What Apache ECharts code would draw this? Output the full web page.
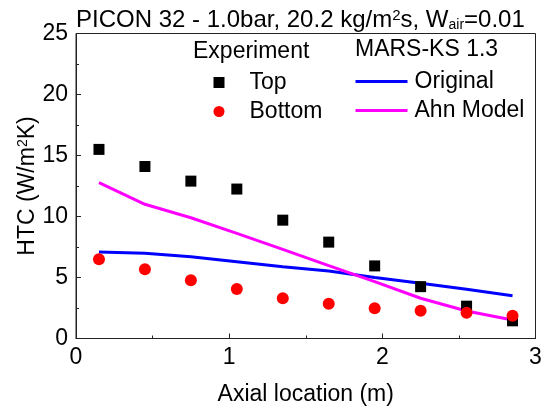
<!DOCTYPE html>
<html>
<head>
<meta charset="utf-8">
<script src="https://cdn.jsdelivr.net/npm/echarts@6/dist/echarts.min.js"></script>
<style>
  html, body { margin: 0; padding: 0; background: #fff; }
  #chart { width: 545px; height: 408px; }
</style>
</head>
<body>
<div id="chart"></div>
<script>
// Axial measurement stations (m)
const axialPos = [0.15, 0.45, 0.75, 1.05, 1.35, 1.65, 1.95, 2.25, 2.55, 2.85];
// Experimental heat transfer coefficients (W/m2K)
const expTop = [15.5, 14.1, 12.9, 12.25, 9.7, 7.9, 5.95, 4.25, 2.65, 1.45];
const expBottom = [6.5, 5.67, 4.77, 4.06, 3.3, 2.84, 2.47, 2.28, 2.12, 1.87];
// MARS-KS 1.3 predictions
const marsOriginal = [7.09, 6.98, 6.7, 6.3, 5.89, 5.53, 5.0, 4.52, 4.03, 3.5];
const marsAhn = [12.77, 11.0, 9.9, 8.62, 7.3, 5.97, 4.66, 3.3, 2.25, 1.52];
// Axis ticks
const xTicks = [0, 1, 2, 3];
const yTicks = [0, 5, 10, 15, 20, 25];

const pairs = (xs, ys) => xs.map((x, i) => [x, ys[i]]);
const FONT = 'Liberation Sans, Arial, sans-serif';
const FS = 23;
const AXIS_COLOR = '#222';

const chart = echarts.init(document.getElementById('chart'), null, { renderer: 'canvas' });

const axisCommon = {
  axisLine: { show: true, lineStyle: { color: AXIS_COLOR, width: 1 } },
  axisTick: { show: true, inside: true, length: 5, lineStyle: { color: AXIS_COLOR } },
  minorTick: { show: true, splitNumber: 2, length: 3, lineStyle: { color: AXIS_COLOR } },
  splitLine: { show: false },
  nameMoveOverlap: false,
  axisLabel: { color: '#000', fontFamily: FONT, fontSize: FS },
  nameTextStyle: { color: '#000', fontFamily: FONT, fontSize: FS }
};

chart.setOption({
  animation: false,
  backgroundColor: '#fff',
  title: {
    text: 'PICON 32 - 1.0bar, 20.2 kg/m{sup|2}s, W{sub|air}=0.01',
    left: 71,
    top: 3,
    textStyle: {
      color: '#000', fontFamily: FONT, fontSize: 24, fontWeight: 'normal',
      rich: {
        sup: { fontSize: 15, verticalAlign: 'top', fontFamily: FONT, color: '#000' },
        sub: { fontSize: 14, verticalAlign: 'bottom', fontFamily: FONT, color: '#000' }
      }
    }
  },
  grid: {
    left: 76, right: 9.5, top: 33.5, bottom: 69.5,
    outerBoundsMode: 'none', containLabel: false,
    show: true, borderColor: AXIS_COLOR, borderWidth: 1, backgroundColor: 'transparent'
  },
  xAxis: Object.assign({}, axisCommon, {
    type: 'value', min: xTicks[0], max: xTicks[xTicks.length - 1], interval: 1,
    name: 'Axial location (m)', nameLocation: 'middle', nameGap: 45,
    axisLabel: Object.assign({}, axisCommon.axisLabel, { margin: 8 })
  }),
  yAxis: Object.assign({}, axisCommon, {
    type: 'value', min: yTicks[0], max: yTicks[yTicks.length - 1], interval: 5,
    name: 'HTC (W/m{sup|2}K)', nameLocation: 'middle', nameGap: 37,
    nameTextStyle: Object.assign({}, axisCommon.nameTextStyle, {
      rich: { sup: { fontSize: 14, verticalAlign: 'top', fontFamily: FONT, color: '#000' } }
    }),
    axisLabel: Object.assign({}, axisCommon.axisLabel, { margin: 8 })
  }),
  legend: [
    {
      data: [{ name: 'Top', icon: 'rect' }, { name: 'Bottom', icon: 'circle' }],
      orient: 'vertical', left: 208.5, top: 66,
      itemWidth: 11, itemHeight: 11, itemGap: 6,
      textStyle: { color: '#000', fontFamily: FONT, fontSize: FS, padding: [0, 0, 0, 20] }
    },
    {
      data: [{ name: 'Original', icon: 'rect' }, { name: 'Ahn Model', icon: 'rect' }],
      orient: 'vertical', left: 350.5, top: 65,
      itemWidth: 52, itemHeight: 3, itemGap: 6,
      textStyle: { color: '#000', fontFamily: FONT, fontSize: FS, padding: [0, 0, 0, 2] }
    }
  ],
  graphic: [
    { type: 'text', left: 193, top: 40, style: { text: 'Experiment', fill: '#000', font: FS + 'px ' + FONT } },
    { type: 'text', left: 355, top: 38, style: { text: 'MARS-KS 1.3', fill: '#000', font: FS + 'px ' + FONT } }
  ],
  series: [
    {
      name: 'Original', type: 'line', data: pairs(axialPos, marsOriginal),
      symbol: 'none', lineStyle: { color: '#0000ff', width: 3 }, itemStyle: { color: '#0000ff' }, z: 2
    },
    {
      name: 'Ahn Model', type: 'line', data: pairs(axialPos, marsAhn),
      symbol: 'none', lineStyle: { color: '#ff00ff', width: 3 }, itemStyle: { color: '#ff00ff' }, z: 2
    },
    {
      name: 'Top', type: 'scatter', data: pairs(axialPos, expTop),
      symbol: 'rect', symbolSize: 11, itemStyle: { color: '#000', opacity: 1 }, z: 3
    },
    {
      name: 'Bottom', type: 'scatter', data: pairs(axialPos, expBottom),
      symbol: 'circle', symbolSize: 12, itemStyle: { color: '#ff0000', opacity: 1 }, z: 4
    }
  ]
});
</script>
</body>
</html>
